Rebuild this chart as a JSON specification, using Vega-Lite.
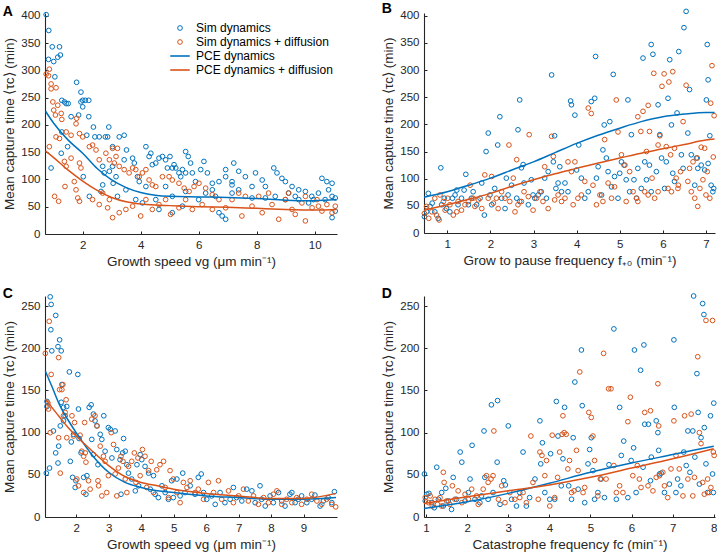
{
"$schema":"https://vega.github.io/schema/vega-lite/v6.json",
"background":"white",
"padding":{"left":2,"top":2,"right":2,"bottom":2},
"config":{
 "view":{"stroke":null},
 "font":"Liberation Sans",
 "axis":{"grid":false,"domainColor":"#262626","domainWidth":1.1,"tickColor":"#262626","tickSize":-3,"tickWidth":1,"labelColor":"#262626","titleColor":"#262626","labelFont":"Liberation Sans","titleFont":"Liberation Sans","labelFontSize":11.5,"titleFontSize":13.5,"titleFontWeight":"normal","labelPadding":8,"titlePadding":4},
 "title":{"font":"Liberation Sans","fontSize":14,"fontWeight":"bold","anchor":"start","frame":"bounds","offset":-9,"color":"#000"}
},
"datasets":{
"A":[
{"s":"S","x":0.74,"y":402},{"s":"S","x":0.83,"y":373},{"s":"S","x":0.82,"y":320},{"s":"S","x":0.95,"y":343},{"s":"S","x":1.0,"y":316},{"s":"S","x":1.14,"y":324},{"s":"S","x":1.2,"y":343},{"s":"S","x":1.23,"y":328},{"s":"S","x":0.91,"y":121},{"s":"S","x":1.04,"y":288},{"s":"S","x":1.28,"y":245},{"s":"S","x":1.37,"y":242},{"s":"S","x":1.43,"y":239},{"s":"S","x":1.5,"y":239},{"s":"S","x":1.6,"y":215},{"s":"S","x":1.79,"y":278},{"s":"S","x":1.86,"y":218},{"s":"S","x":1.94,"y":260},{"s":"S","x":1.94,"y":242},{"s":"S","x":2.0,"y":245},{"s":"S","x":2.0,"y":233},{"s":"S","x":2.09,"y":245},{"s":"S","x":2.21,"y":245},{"s":"S","x":2.21,"y":215},{"s":"S","x":1.28,"y":187},{"s":"S","x":1.26,"y":148},{"s":"S","x":1.48,"y":160},{"s":"S","x":2.14,"y":181},{"s":"S","x":2.02,"y":105},{"s":"S","x":2.37,"y":196},{"s":"S","x":2.42,"y":178},{"s":"S","x":2.57,"y":178},{"s":"S","x":2.78,"y":178},{"s":"S","x":2.86,"y":178},{"s":"S","x":2.9,"y":196},{"s":"S","x":3.26,"y":178},{"s":"S","x":3.43,"y":181},{"s":"S","x":3.03,"y":160},{"s":"S","x":3.03,"y":124},{"s":"S","x":2.69,"y":124},{"s":"S","x":2.74,"y":112},{"s":"S","x":2.92,"y":115},{"s":"S","x":2.69,"y":90},{"s":"S","x":2.63,"y":78},{"s":"S","x":2.23,"y":69},{"s":"S","x":3.05,"y":93},{"s":"S","x":3.15,"y":105},{"s":"S","x":3.2,"y":69},{"s":"S","x":3.51,"y":154},{"s":"S","x":3.43,"y":136},{"s":"S","x":3.72,"y":139},{"s":"S","x":3.78,"y":130},{"s":"S","x":3.89,"y":105},{"s":"S","x":3.95,"y":96},{"s":"S","x":4.18,"y":160},{"s":"S","x":4.29,"y":142},{"s":"S","x":4.35,"y":148},{"s":"S","x":4.4,"y":127},{"s":"S","x":4.52,"y":130},{"s":"S","x":4.63,"y":139},{"s":"S","x":4.75,"y":142},{"s":"S","x":4.86,"y":136},{"s":"S","x":4.92,"y":121},{"s":"S","x":5.01,"y":142},{"s":"S","x":5.09,"y":121},{"s":"S","x":5.15,"y":127},{"s":"S","x":5.21,"y":121},{"s":"S","x":5.32,"y":112},{"s":"S","x":5.38,"y":105},{"s":"S","x":5.44,"y":118},{"s":"S","x":5.55,"y":151},{"s":"S","x":5.64,"y":142},{"s":"S","x":5.72,"y":130},{"s":"S","x":5.55,"y":112},{"s":"S","x":5.78,"y":112},{"s":"S","x":5.89,"y":96},{"s":"S","x":6.07,"y":118},{"s":"S","x":6.18,"y":133},{"s":"S","x":6.3,"y":112},{"s":"S","x":6.47,"y":93},{"s":"S","x":6.7,"y":96},{"s":"S","x":6.93,"y":118},{"s":"S","x":6.93,"y":105},{"s":"S","x":7.15,"y":96},{"s":"S","x":7.21,"y":130},{"s":"S","x":7.38,"y":115},{"s":"S","x":7.61,"y":105},{"s":"S","x":7.96,"y":112},{"s":"S","x":8.19,"y":99},{"s":"S","x":8.3,"y":87},{"s":"S","x":8.59,"y":121},{"s":"S","x":8.7,"y":112},{"s":"S","x":8.87,"y":102},{"s":"S","x":8.99,"y":96},{"s":"S","x":9.22,"y":87},{"s":"S","x":9.45,"y":81},{"s":"S","x":9.68,"y":78},{"s":"S","x":9.96,"y":63},{"s":"S","x":10.25,"y":102},{"s":"S","x":10.42,"y":96},{"s":"S","x":10.6,"y":93},{"s":"S","x":10.71,"y":66},{"s":"S","x":10.6,"y":30},{"s":"S","x":10.71,"y":42},{"s":"S","x":6.93,"y":27},{"s":"S","x":6.81,"y":33},{"s":"S","x":6.7,"y":39},{"s":"S","x":4.63,"y":45},{"s":"S","x":5.09,"y":39},{"s":"S","x":5.44,"y":51},{"s":"S","x":3.83,"y":63},{"s":"S","x":4.06,"y":57},{"s":"S","x":4.52,"y":63},{"s":"S","x":5.09,"y":69},{"s":"S","x":6.0,"y":63},{"s":"S","x":6.24,"y":75},{"s":"S","x":6.58,"y":69},{"s":"S","x":7.15,"y":75},{"s":"S","x":7.84,"y":66},{"s":"S","x":8.3,"y":66},{"s":"S","x":8.64,"y":69},{"s":"S","x":8.99,"y":63},{"s":"S","x":9.45,"y":63},{"s":"S","x":9.79,"y":57},{"s":"S","x":10.13,"y":75},{"s":"S","x":10.36,"y":63},{"s":"S","x":10.6,"y":69},{"s":"S","x":7.38,"y":81},{"s":"S","x":9.1,"y":75},{"s":"S","x":9.33,"y":69},{"s":"S","x":9.9,"y":69},{"s":"S","x":10.48,"y":81},{"s":"S","x":7.84,"y":87},{"s":"S","x":7.15,"y":90},{"s":"S","x":6.47,"y":81},{"s":"S","x":5.55,"y":78},{"s":"S","x":4.86,"y":87},{"s":"S","x":4.18,"y":87},{"s":"S","x":3.49,"y":81},
{"s":"SD","x":0.74,"y":293},{"s":"SD","x":0.82,"y":290},{"s":"SD","x":0.85,"y":302},{"s":"SD","x":0.91,"y":275},{"s":"SD","x":0.91,"y":266},{"s":"SD","x":1.08,"y":268},{"s":"SD","x":0.97,"y":242},{"s":"SD","x":1.0,"y":227},{"s":"SD","x":1.06,"y":218},{"s":"SD","x":1.14,"y":236},{"s":"SD","x":1.26,"y":221},{"s":"SD","x":1.28,"y":210},{"s":"SD","x":0.85,"y":160},{"s":"SD","x":1.08,"y":178},{"s":"SD","x":1.2,"y":175},{"s":"SD","x":1.43,"y":187},{"s":"SD","x":1.6,"y":181},{"s":"SD","x":1.79,"y":212},{"s":"SD","x":1.77,"y":202},{"s":"SD","x":1.89,"y":184},{"s":"SD","x":2.0,"y":178},{"s":"SD","x":1.37,"y":133},{"s":"SD","x":1.43,"y":124},{"s":"SD","x":1.6,"y":139},{"s":"SD","x":1.89,"y":130},{"s":"SD","x":1.94,"y":121},{"s":"SD","x":1.39,"y":87},{"s":"SD","x":1.71,"y":96},{"s":"SD","x":1.77,"y":81},{"s":"SD","x":1.83,"y":66},{"s":"SD","x":1.89,"y":60},{"s":"SD","x":1.03,"y":69},{"s":"SD","x":1.17,"y":60},{"s":"SD","x":2.23,"y":160},{"s":"SD","x":2.34,"y":163},{"s":"SD","x":2.46,"y":154},{"s":"SD","x":2.57,"y":136},{"s":"SD","x":2.8,"y":148},{"s":"SD","x":3.03,"y":157},{"s":"SD","x":3.2,"y":157},{"s":"SD","x":3.15,"y":142},{"s":"SD","x":2.92,"y":136},{"s":"SD","x":3.09,"y":130},{"s":"SD","x":3.26,"y":124},{"s":"SD","x":3.43,"y":118},{"s":"SD","x":3.6,"y":112},{"s":"SD","x":3.72,"y":121},{"s":"SD","x":3.83,"y":118},{"s":"SD","x":3.95,"y":105},{"s":"SD","x":4.06,"y":112},{"s":"SD","x":4.18,"y":118},{"s":"SD","x":4.29,"y":99},{"s":"SD","x":4.4,"y":90},{"s":"SD","x":4.52,"y":87},{"s":"SD","x":4.75,"y":105},{"s":"SD","x":4.98,"y":105},{"s":"SD","x":5.09,"y":99},{"s":"SD","x":5.32,"y":93},{"s":"SD","x":5.5,"y":84},{"s":"SD","x":5.67,"y":78},{"s":"SD","x":5.84,"y":87},{"s":"SD","x":6.01,"y":93},{"s":"SD","x":6.24,"y":84},{"s":"SD","x":6.47,"y":72},{"s":"SD","x":2.34,"y":63},{"s":"SD","x":2.57,"y":54},{"s":"SD","x":2.86,"y":48},{"s":"SD","x":3.03,"y":30},{"s":"SD","x":3.26,"y":39},{"s":"SD","x":3.49,"y":45},{"s":"SD","x":2.92,"y":63},{"s":"SD","x":2.69,"y":75},{"s":"SD","x":3.72,"y":51},{"s":"SD","x":4.0,"y":33},{"s":"SD","x":4.18,"y":63},{"s":"SD","x":4.4,"y":45},{"s":"SD","x":4.63,"y":54},{"s":"SD","x":4.86,"y":63},{"s":"SD","x":5.03,"y":36},{"s":"SD","x":5.32,"y":48},{"s":"SD","x":5.55,"y":63},{"s":"SD","x":5.78,"y":45},{"s":"SD","x":6.12,"y":54},{"s":"SD","x":6.47,"y":45},{"s":"SD","x":6.7,"y":63},{"s":"SD","x":6.93,"y":48},{"s":"SD","x":7.15,"y":63},{"s":"SD","x":7.38,"y":75},{"s":"SD","x":7.49,"y":33},{"s":"SD","x":7.84,"y":51},{"s":"SD","x":8.19,"y":39},{"s":"SD","x":8.41,"y":75},{"s":"SD","x":8.53,"y":54},{"s":"SD","x":8.76,"y":27},{"s":"SD","x":8.99,"y":63},{"s":"SD","x":9.22,"y":45},{"s":"SD","x":9.33,"y":36},{"s":"SD","x":9.56,"y":57},{"s":"SD","x":9.68,"y":24},{"s":"SD","x":9.91,"y":48},{"s":"SD","x":10.08,"y":63},{"s":"SD","x":10.25,"y":42},{"s":"SD","x":10.42,"y":54},{"s":"SD","x":10.6,"y":39},{"s":"SD","x":10.71,"y":51},{"s":"SD","x":9.1,"y":75},{"s":"SD","x":8.07,"y":69},{"s":"SD","x":7.61,"y":69},{"s":"SD","x":9.68,"y":69},{"s":"SD","x":10.13,"y":51},
{"s":"P","x":0.72,"y":225},{"s":"P","x":1.0,"y":203},{"s":"P","x":1.5,"y":172},{"s":"P","x":2,"y":148},{"s":"P","x":2.5,"y":120},{"s":"P","x":3,"y":99},{"s":"P","x":3.5,"y":85},{"s":"P","x":4,"y":76},{"s":"P","x":4.5,"y":71},{"s":"P","x":5,"y":69},{"s":"P","x":6,"y":68},{"s":"P","x":7,"y":67},{"s":"P","x":8,"y":65},{"s":"P","x":9,"y":62},{"s":"P","x":10,"y":61},{"s":"P","x":10.75,"y":63},
{"s":"PD","x":0.72,"y":152},{"s":"PD","x":1.0,"y":140},{"s":"PD","x":1.5,"y":117},{"s":"PD","x":2,"y":97},{"s":"PD","x":2.5,"y":80},{"s":"PD","x":3,"y":67},{"s":"PD","x":3.5,"y":59},{"s":"PD","x":4,"y":55},{"s":"PD","x":4.5,"y":53},{"s":"PD","x":5,"y":52},{"s":"PD","x":6,"y":50},{"s":"PD","x":7,"y":49},{"s":"PD","x":8,"y":47},{"s":"PD","x":9,"y":45},{"s":"PD","x":10,"y":44},{"s":"PD","x":10.75,"y":45}
],
"B":[
{"s":"S","x":0.47,"y":30},{"s":"S","x":0.52,"y":39},{"s":"S","x":0.56,"y":73},{"s":"S","x":0.6,"y":49},{"s":"S","x":0.65,"y":55},{"s":"S","x":0.71,"y":39},{"s":"S","x":0.79,"y":27},{"s":"S","x":0.85,"y":120},{"s":"S","x":0.87,"y":52},{"s":"S","x":0.93,"y":64},{"s":"S","x":0.98,"y":45},{"s":"S","x":1.06,"y":39},{"s":"S","x":1.12,"y":64},{"s":"S","x":1.18,"y":70},{"s":"S","x":1.22,"y":79},{"s":"S","x":1.25,"y":52},{"s":"S","x":1.33,"y":64},{"s":"S","x":1.39,"y":79},{"s":"S","x":1.43,"y":108},{"s":"S","x":1.49,"y":52},{"s":"S","x":1.56,"y":64},{"s":"S","x":1.6,"y":76},{"s":"S","x":1.68,"y":52},{"s":"S","x":1.76,"y":64},{"s":"S","x":1.8,"y":92},{"s":"S","x":1.86,"y":33},{"s":"S","x":1.9,"y":150},{"s":"S","x":1.95,"y":184},{"s":"S","x":1.99,"y":70},{"s":"S","x":2.03,"y":52},{"s":"S","x":2.1,"y":82},{"s":"S","x":2.17,"y":162},{"s":"S","x":2.22,"y":214},{"s":"S","x":2.26,"y":64},{"s":"S","x":2.34,"y":45},{"s":"S","x":2.37,"y":101},{"s":"S","x":2.41,"y":70},{"s":"S","x":2.49,"y":88},{"s":"S","x":2.61,"y":64},{"s":"S","x":2.64,"y":190},{"s":"S","x":2.68,"y":245},{"s":"S","x":2.72,"y":120},{"s":"S","x":2.76,"y":126},{"s":"S","x":2.78,"y":92},{"s":"S","x":2.68,"y":58},{"s":"S","x":2.88,"y":52},{"s":"S","x":2.95,"y":98},{"s":"S","x":2.99,"y":70},{"s":"S","x":3.03,"y":64},{"s":"S","x":3.11,"y":70},{"s":"S","x":3.18,"y":76},{"s":"S","x":3.26,"y":101},{"s":"S","x":3.3,"y":64},{"s":"S","x":3.34,"y":113},{"s":"S","x":3.42,"y":291},{"s":"S","x":3.46,"y":131},{"s":"S","x":3.49,"y":179},{"s":"S","x":3.52,"y":82},{"s":"S","x":3.57,"y":92},{"s":"S","x":3.61,"y":122},{"s":"S","x":3.65,"y":76},{"s":"S","x":3.73,"y":92},{"s":"S","x":3.8,"y":76},{"s":"S","x":3.86,"y":243},{"s":"S","x":3.88,"y":236},{"s":"S","x":3.96,"y":217},{"s":"S","x":4.0,"y":116},{"s":"S","x":4.05,"y":162},{"s":"S","x":4.11,"y":101},{"s":"S","x":4.19,"y":64},{"s":"S","x":4.27,"y":76},{"s":"S","x":4.34,"y":242},{"s":"S","x":4.42,"y":248},{"s":"S","x":4.44,"y":325},{"s":"S","x":4.46,"y":101},{"s":"S","x":4.5,"y":122},{"s":"S","x":4.58,"y":70},{"s":"S","x":4.61,"y":153},{"s":"S","x":4.64,"y":199},{"s":"S","x":4.69,"y":138},{"s":"S","x":4.73,"y":113},{"s":"S","x":4.81,"y":85},{"s":"S","x":4.85,"y":292},{"s":"S","x":4.88,"y":104},{"s":"S","x":4.77,"y":205},{"s":"S","x":4.96,"y":64},{"s":"S","x":5.0,"y":110},{"s":"S","x":5.04,"y":131},{"s":"S","x":5.1,"y":125},{"s":"S","x":5.15,"y":98},{"s":"S","x":5.19,"y":245},{"s":"S","x":5.23,"y":76},{"s":"S","x":5.27,"y":181},{"s":"S","x":5.33,"y":98},{"s":"S","x":5.39,"y":64},{"s":"S","x":5.42,"y":119},{"s":"S","x":5.5,"y":82},{"s":"S","x":5.54,"y":322},{"s":"S","x":5.58,"y":131},{"s":"S","x":5.62,"y":98},{"s":"S","x":5.69,"y":125},{"s":"S","x":5.73,"y":347},{"s":"S","x":5.77,"y":329},{"s":"S","x":5.73,"y":76},{"s":"S","x":5.85,"y":113},{"s":"S","x":5.89,"y":236},{"s":"S","x":5.93,"y":181},{"s":"S","x":5.97,"y":138},{"s":"S","x":6.04,"y":82},{"s":"S","x":6.08,"y":131},{"s":"S","x":6.12,"y":248},{"s":"S","x":6.16,"y":319},{"s":"S","x":6.2,"y":199},{"s":"S","x":6.23,"y":110},{"s":"S","x":6.27,"y":95},{"s":"S","x":6.33,"y":221},{"s":"S","x":6.37,"y":334},{"s":"S","x":6.43,"y":144},{"s":"S","x":6.47,"y":119},{"s":"S","x":6.49,"y":378},{"s":"S","x":6.54,"y":408},{"s":"S","x":6.58,"y":184},{"s":"S","x":6.62,"y":264},{"s":"S","x":6.66,"y":144},{"s":"S","x":6.74,"y":88},{"s":"S","x":6.78,"y":138},{"s":"S","x":6.81,"y":119},{"s":"S","x":6.89,"y":125},{"s":"S","x":6.97,"y":116},{"s":"S","x":7.01,"y":245},{"s":"S","x":7.03,"y":347},{"s":"S","x":7.05,"y":282},{"s":"S","x":7.05,"y":128},{"s":"S","x":7.09,"y":179},{"s":"S","x":7.12,"y":88},{"s":"S","x":7.16,"y":76},{"s":"S","x":7.18,"y":82},
{"s":"SD","x":0.47,"y":36},{"s":"SD","x":0.52,"y":49},{"s":"SD","x":0.57,"y":27},{"s":"SD","x":0.64,"y":39},{"s":"SD","x":0.71,"y":64},{"s":"SD","x":0.75,"y":33},{"s":"SD","x":0.81,"y":24},{"s":"SD","x":0.83,"y":70},{"s":"SD","x":0.91,"y":58},{"s":"SD","x":0.95,"y":42},{"s":"SD","x":1.01,"y":64},{"s":"SD","x":1.06,"y":52},{"s":"SD","x":1.14,"y":33},{"s":"SD","x":1.22,"y":39},{"s":"SD","x":1.25,"y":58},{"s":"SD","x":1.33,"y":42},{"s":"SD","x":1.41,"y":52},{"s":"SD","x":1.49,"y":58},{"s":"SD","x":1.53,"y":88},{"s":"SD","x":1.6,"y":64},{"s":"SD","x":1.64,"y":49},{"s":"SD","x":1.72,"y":61},{"s":"SD","x":1.8,"y":45},{"s":"SD","x":1.87,"y":107},{"s":"SD","x":1.95,"y":64},{"s":"SD","x":2.03,"y":104},{"s":"SD","x":2.07,"y":55},{"s":"SD","x":2.14,"y":64},{"s":"SD","x":2.18,"y":45},{"s":"SD","x":2.26,"y":76},{"s":"SD","x":2.34,"y":64},{"s":"SD","x":2.43,"y":162},{"s":"SD","x":2.45,"y":58},{"s":"SD","x":2.53,"y":101},{"s":"SD","x":2.57,"y":39},{"s":"SD","x":2.61,"y":135},{"s":"SD","x":2.64,"y":52},{"s":"SD","x":2.72,"y":58},{"s":"SD","x":2.78,"y":76},{"s":"SD","x":2.88,"y":67},{"s":"SD","x":2.9,"y":181},{"s":"SD","x":2.99,"y":42},{"s":"SD","x":3.07,"y":64},{"s":"SD","x":3.15,"y":76},{"s":"SD","x":3.22,"y":58},{"s":"SD","x":3.26,"y":122},{"s":"SD","x":3.34,"y":45},{"s":"SD","x":3.42,"y":178},{"s":"SD","x":3.46,"y":141},{"s":"SD","x":3.49,"y":61},{"s":"SD","x":3.57,"y":70},{"s":"SD","x":3.65,"y":58},{"s":"SD","x":3.73,"y":64},{"s":"SD","x":3.8,"y":131},{"s":"SD","x":3.88,"y":113},{"s":"SD","x":3.92,"y":52},{"s":"SD","x":3.96,"y":131},{"s":"SD","x":4.03,"y":64},{"s":"SD","x":4.11,"y":70},{"s":"SD","x":4.19,"y":95},{"s":"SD","x":4.27,"y":230},{"s":"SD","x":4.34,"y":220},{"s":"SD","x":4.38,"y":88},{"s":"SD","x":4.46,"y":52},{"s":"SD","x":4.54,"y":70},{"s":"SD","x":4.61,"y":58},{"s":"SD","x":4.65,"y":172},{"s":"SD","x":4.73,"y":92},{"s":"SD","x":4.81,"y":64},{"s":"SD","x":4.88,"y":85},{"s":"SD","x":4.92,"y":245},{"s":"SD","x":4.96,"y":186},{"s":"SD","x":5.04,"y":144},{"s":"SD","x":5.12,"y":125},{"s":"SD","x":5.15,"y":58},{"s":"SD","x":5.23,"y":113},{"s":"SD","x":5.31,"y":76},{"s":"SD","x":5.39,"y":64},{"s":"SD","x":5.42,"y":214},{"s":"SD","x":5.49,"y":187},{"s":"SD","x":5.54,"y":224},{"s":"SD","x":5.58,"y":76},{"s":"SD","x":5.62,"y":150},{"s":"SD","x":5.66,"y":235},{"s":"SD","x":5.69,"y":187},{"s":"SD","x":5.75,"y":101},{"s":"SD","x":5.79,"y":294},{"s":"SD","x":5.81,"y":64},{"s":"SD","x":5.89,"y":162},{"s":"SD","x":5.93,"y":179},{"s":"SD","x":5.98,"y":270},{"s":"SD","x":6.03,"y":293},{"s":"SD","x":6.08,"y":159},{"s":"SD","x":6.12,"y":82},{"s":"SD","x":6.14,"y":278},{"s":"SD","x":6.18,"y":144},{"s":"SD","x":6.23,"y":297},{"s":"SD","x":6.27,"y":156},{"s":"SD","x":6.31,"y":101},{"s":"SD","x":6.36,"y":88},{"s":"SD","x":6.41,"y":113},{"s":"SD","x":6.47,"y":205},{"s":"SD","x":6.54,"y":272},{"s":"SD","x":6.58,"y":95},{"s":"SD","x":6.62,"y":119},{"s":"SD","x":6.7,"y":131},{"s":"SD","x":6.74,"y":64},{"s":"SD","x":6.8,"y":138},{"s":"SD","x":6.86,"y":82},{"s":"SD","x":6.89,"y":158},{"s":"SD","x":6.93,"y":98},{"s":"SD","x":6.97,"y":156},{"s":"SD","x":7.03,"y":113},{"s":"SD","x":7.09,"y":64},{"s":"SD","x":7.11,"y":239},{"s":"SD","x":7.14,"y":308},{"s":"SD","x":7.17,"y":140},{"s":"SD","x":7.19,"y":216},{"s":"SD","x":5.42,"y":58},{"s":"SD","x":5.66,"y":70},{"s":"SD","x":5.89,"y":76},{"s":"SD","x":6.2,"y":76},{"s":"SD","x":6.35,"y":82},{"s":"SD","x":6.66,"y":76},{"s":"SD","x":6.81,"y":49},{"s":"SD","x":7.0,"y":70},
{"s":"P","x":0.46,"y":66},{"s":"P","x":1,"y":76},{"s":"P","x":1.5,"y":88},{"s":"P","x":2,"y":101},{"s":"P","x":2.5,"y":116},{"s":"P","x":3,"y":131},{"s":"P","x":3.5,"y":148},{"s":"P","x":4,"y":165},{"s":"P","x":4.5,"y":180},{"s":"P","x":5,"y":193},{"s":"P","x":5.5,"y":205},{"s":"P","x":6,"y":214},{"s":"P","x":6.5,"y":219},{"s":"P","x":7,"y":222},{"s":"P","x":7.2,"y":222},
{"s":"PD","x":0.46,"y":42},{"s":"PD","x":1,"y":52},{"s":"PD","x":1.5,"y":62},{"s":"PD","x":2,"y":73},{"s":"PD","x":2.5,"y":86},{"s":"PD","x":3,"y":98},{"s":"PD","x":3.5,"y":109},{"s":"PD","x":4,"y":119},{"s":"PD","x":4.5,"y":129},{"s":"PD","x":5,"y":138},{"s":"PD","x":5.5,"y":147},{"s":"PD","x":6,"y":155},{"s":"PD","x":6.5,"y":163},{"s":"PD","x":7,"y":171},{"s":"PD","x":7.2,"y":173}
],
"C":[
{"s":"S","x":1.08,"y":52},{"s":"S","x":1.18,"y":58},{"s":"S","x":1.1,"y":137},{"s":"S","x":1.1,"y":131},{"s":"S","x":1.2,"y":261},{"s":"S","x":1.23,"y":252},{"s":"S","x":1.22,"y":222},{"s":"S","x":1.25,"y":197},{"s":"S","x":1.37,"y":239},{"s":"S","x":1.44,"y":202},{"s":"S","x":1.49,"y":210},{"s":"S","x":1.54,"y":197},{"s":"S","x":1.3,"y":102},{"s":"S","x":1.37,"y":76},{"s":"S","x":1.44,"y":64},{"s":"S","x":1.46,"y":84},{"s":"S","x":1.51,"y":108},{"s":"S","x":1.54,"y":136},{"s":"S","x":1.56,"y":157},{"s":"S","x":1.61,"y":130},{"s":"S","x":1.61,"y":114},{"s":"S","x":1.66,"y":120},{"s":"S","x":1.71,"y":131},{"s":"S","x":1.79,"y":172},{"s":"S","x":1.82,"y":66},{"s":"S","x":1.85,"y":89},{"s":"S","x":1.89,"y":47},{"s":"S","x":1.92,"y":98},{"s":"S","x":1.97,"y":35},{"s":"S","x":1.99,"y":43},{"s":"S","x":2.05,"y":169},{"s":"S","x":2.07,"y":128},{"s":"S","x":2.09,"y":93},{"s":"S","x":2.15,"y":76},{"s":"S","x":2.23,"y":47},{"s":"S","x":2.3,"y":27},{"s":"S","x":2.33,"y":49},{"s":"S","x":2.4,"y":130},{"s":"S","x":2.46,"y":133},{"s":"S","x":2.48,"y":92},{"s":"S","x":2.53,"y":122},{"s":"S","x":2.58,"y":114},{"s":"S","x":2.64,"y":108},{"s":"S","x":2.53,"y":74},{"s":"S","x":2.67,"y":62},{"s":"S","x":2.74,"y":98},{"s":"S","x":2.79,"y":92},{"s":"S","x":2.85,"y":120},{"s":"S","x":2.89,"y":78},{"s":"S","x":2.99,"y":106},{"s":"S","x":3.05,"y":104},{"s":"S","x":3.1,"y":70},{"s":"S","x":3.2,"y":102},{"s":"S","x":3.25,"y":80},{"s":"S","x":3.35,"y":68},{"s":"S","x":3.38,"y":27},{"s":"S","x":3.43,"y":76},{"s":"S","x":3.46,"y":93},{"s":"S","x":3.51,"y":78},{"s":"S","x":3.56,"y":62},{"s":"S","x":3.61,"y":52},{"s":"S","x":3.71,"y":45},{"s":"S","x":3.82,"y":31},{"s":"S","x":3.87,"y":62},{"s":"S","x":3.92,"y":37},{"s":"S","x":3.97,"y":74},{"s":"S","x":4.02,"y":68},{"s":"S","x":4.12,"y":60},{"s":"S","x":4.23,"y":52},{"s":"S","x":4.28,"y":33},{"s":"S","x":4.38,"y":49},{"s":"S","x":4.43,"y":27},{"s":"S","x":4.53,"y":23},{"s":"S","x":4.64,"y":37},{"s":"S","x":4.74,"y":29},{"s":"S","x":4.84,"y":21},{"s":"S","x":4.94,"y":43},{"s":"S","x":4.99,"y":23},{"s":"S","x":5.1,"y":45},{"s":"S","x":5.2,"y":25},{"s":"S","x":5.28,"y":52},{"s":"S","x":5.35,"y":29},{"s":"S","x":5.51,"y":37},{"s":"S","x":5.66,"y":27},{"s":"S","x":5.76,"y":47},{"s":"S","x":5.85,"y":51},{"s":"S","x":5.92,"y":29},{"s":"S","x":6.02,"y":21},{"s":"S","x":6.17,"y":25},{"s":"S","x":6.28,"y":15},{"s":"S","x":6.43,"y":29},{"s":"S","x":6.58,"y":17},{"s":"S","x":6.74,"y":21},{"s":"S","x":6.84,"y":35},{"s":"S","x":6.94,"y":23},{"s":"S","x":7.1,"y":19},{"s":"S","x":7.25,"y":33},{"s":"S","x":7.41,"y":31},{"s":"S","x":7.51,"y":17},{"s":"S","x":7.66,"y":37},{"s":"S","x":7.71,"y":21},{"s":"S","x":7.82,"y":13},{"s":"S","x":7.97,"y":25},{"s":"S","x":8.07,"y":17},{"s":"S","x":8.23,"y":29},{"s":"S","x":8.33,"y":19},{"s":"S","x":8.43,"y":13},{"s":"S","x":8.58,"y":27},{"s":"S","x":8.64,"y":29},{"s":"S","x":8.74,"y":17},{"s":"S","x":8.84,"y":21},{"s":"S","x":8.94,"y":25},{"s":"S","x":9.1,"y":17},{"s":"S","x":9.25,"y":21},{"s":"S","x":9.35,"y":26},{"s":"S","x":9.51,"y":13},{"s":"S","x":9.61,"y":19},{"s":"S","x":9.76,"y":23},{"s":"S","x":9.87,"y":17},{"s":"S","x":9.95,"y":30},
{"s":"SD","x":1.05,"y":194},{"s":"SD","x":1.13,"y":135},{"s":"SD","x":1.15,"y":128},{"s":"SD","x":1.2,"y":100},{"s":"SD","x":1.17,"y":232},{"s":"SD","x":1.23,"y":169},{"s":"SD","x":1.46,"y":189},{"s":"SD","x":1.49,"y":151},{"s":"SD","x":1.56,"y":151},{"s":"SD","x":1.59,"y":157},{"s":"SD","x":1.46,"y":94},{"s":"SD","x":1.51,"y":52},{"s":"SD","x":1.61,"y":120},{"s":"SD","x":1.66,"y":124},{"s":"SD","x":1.69,"y":139},{"s":"SD","x":1.71,"y":94},{"s":"SD","x":1.87,"y":120},{"s":"SD","x":1.92,"y":96},{"s":"SD","x":1.95,"y":112},{"s":"SD","x":2.02,"y":45},{"s":"SD","x":2.07,"y":37},{"s":"SD","x":2.12,"y":97},{"s":"SD","x":2.17,"y":78},{"s":"SD","x":2.23,"y":72},{"s":"SD","x":2.26,"y":112},{"s":"SD","x":2.28,"y":76},{"s":"SD","x":2.3,"y":65},{"s":"SD","x":2.23,"y":29},{"s":"SD","x":2.38,"y":43},{"s":"SD","x":2.43,"y":33},{"s":"SD","x":2.48,"y":116},{"s":"SD","x":2.58,"y":120},{"s":"SD","x":2.64,"y":108},{"s":"SD","x":2.67,"y":43},{"s":"SD","x":2.69,"y":37},{"s":"SD","x":2.74,"y":84},{"s":"SD","x":2.79,"y":25},{"s":"SD","x":2.84,"y":72},{"s":"SD","x":2.89,"y":66},{"s":"SD","x":2.94,"y":29},{"s":"SD","x":2.99,"y":49},{"s":"SD","x":3.08,"y":100},{"s":"SD","x":3.15,"y":86},{"s":"SD","x":3.2,"y":51},{"s":"SD","x":3.25,"y":25},{"s":"SD","x":3.3,"y":58},{"s":"SD","x":3.38,"y":72},{"s":"SD","x":3.44,"y":66},{"s":"SD","x":3.51,"y":45},{"s":"SD","x":3.56,"y":29},{"s":"SD","x":3.61,"y":60},{"s":"SD","x":3.71,"y":66},{"s":"SD","x":3.79,"y":76},{"s":"SD","x":3.84,"y":41},{"s":"SD","x":3.9,"y":70},{"s":"SD","x":3.97,"y":49},{"s":"SD","x":4.04,"y":80},{"s":"SD","x":4.12,"y":72},{"s":"SD","x":4.17,"y":35},{"s":"SD","x":4.23,"y":55},{"s":"SD","x":4.31,"y":66},{"s":"SD","x":4.38,"y":29},{"s":"SD","x":4.48,"y":56},{"s":"SD","x":4.58,"y":62},{"s":"SD","x":4.69,"y":66},{"s":"SD","x":4.74,"y":35},{"s":"SD","x":4.84,"y":23},{"s":"SD","x":4.89,"y":55},{"s":"SD","x":4.99,"y":45},{"s":"SD","x":5.1,"y":29},{"s":"SD","x":5.2,"y":17},{"s":"SD","x":5.3,"y":41},{"s":"SD","x":5.41,"y":35},{"s":"SD","x":5.51,"y":43},{"s":"SD","x":5.66,"y":29},{"s":"SD","x":5.76,"y":33},{"s":"SD","x":5.92,"y":21},{"s":"SD","x":6.07,"y":41},{"s":"SD","x":6.23,"y":29},{"s":"SD","x":6.38,"y":43},{"s":"SD","x":6.48,"y":21},{"s":"SD","x":6.69,"y":31},{"s":"SD","x":6.84,"y":17},{"s":"SD","x":7.0,"y":25},{"s":"SD","x":7.15,"y":33},{"s":"SD","x":7.3,"y":19},{"s":"SD","x":7.46,"y":25},{"s":"SD","x":7.61,"y":15},{"s":"SD","x":7.77,"y":23},{"s":"SD","x":7.92,"y":17},{"s":"SD","x":8.07,"y":27},{"s":"SD","x":8.18,"y":31},{"s":"SD","x":8.33,"y":15},{"s":"SD","x":8.48,"y":21},{"s":"SD","x":8.64,"y":17},{"s":"SD","x":8.79,"y":23},{"s":"SD","x":8.94,"y":15},{"s":"SD","x":9.1,"y":21},{"s":"SD","x":9.25,"y":27},{"s":"SD","x":9.41,"y":19},{"s":"SD","x":9.56,"y":15},{"s":"SD","x":9.71,"y":21},{"s":"SD","x":9.87,"y":15},{"s":"SD","x":9.99,"y":12},
{"s":"P","x":1.05,"y":173},{"s":"P","x":1.25,"y":155},{"s":"P","x":1.5,"y":132},{"s":"P","x":1.75,"y":115},{"s":"P","x":2,"y":100},{"s":"P","x":2.5,"y":73},{"s":"P","x":3,"y":53},{"s":"P","x":3.5,"y":41},{"s":"P","x":4,"y":35},{"s":"P","x":4.5,"y":31},{"s":"P","x":5,"y":29},{"s":"P","x":6,"y":25},{"s":"P","x":7,"y":23},{"s":"P","x":8,"y":21},{"s":"P","x":9,"y":21},{"s":"P","x":10,"y":23},
{"s":"PD","x":1.05,"y":140},{"s":"PD","x":1.25,"y":130},{"s":"PD","x":1.5,"y":118},{"s":"PD","x":1.75,"y":106},{"s":"PD","x":2,"y":96},{"s":"PD","x":2.5,"y":78},{"s":"PD","x":3,"y":61},{"s":"PD","x":3.5,"y":48},{"s":"PD","x":4,"y":41},{"s":"PD","x":4.5,"y":37},{"s":"PD","x":5,"y":33},{"s":"PD","x":6,"y":28},{"s":"PD","x":7,"y":25},{"s":"PD","x":8,"y":22},{"s":"PD","x":9,"y":22},{"s":"PD","x":10,"y":28}
],
"D":[
{"s":"S","x":0.96,"y":51},{"s":"S","x":0.98,"y":19},{"s":"S","x":1.02,"y":27},{"s":"S","x":1.07,"y":28},{"s":"S","x":1.14,"y":17},{"s":"S","x":1.2,"y":11},{"s":"S","x":1.26,"y":59},{"s":"S","x":1.3,"y":21},{"s":"S","x":1.38,"y":29},{"s":"S","x":1.42,"y":13},{"s":"S","x":1.48,"y":34},{"s":"S","x":1.54,"y":19},{"s":"S","x":1.62,"y":9},{"s":"S","x":1.66,"y":47},{"s":"S","x":1.74,"y":21},{"s":"S","x":1.83,"y":77},{"s":"S","x":1.87,"y":65},{"s":"S","x":1.95,"y":19},{"s":"S","x":2.03,"y":29},{"s":"S","x":2.07,"y":45},{"s":"S","x":2.12,"y":85},{"s":"S","x":2.19,"y":21},{"s":"S","x":2.31,"y":17},{"s":"S","x":2.35,"y":25},{"s":"S","x":2.41,"y":102},{"s":"S","x":2.43,"y":47},{"s":"S","x":2.51,"y":21},{"s":"S","x":2.59,"y":133},{"s":"S","x":2.63,"y":29},{"s":"S","x":2.74,"y":138},{"s":"S","x":2.73,"y":65},{"s":"S","x":2.8,"y":15},{"s":"S","x":2.89,"y":43},{"s":"S","x":2.93,"y":38},{"s":"S","x":3.0,"y":108},{"s":"S","x":3.08,"y":21},{"s":"S","x":3.2,"y":13},{"s":"S","x":3.28,"y":29},{"s":"S","x":3.36,"y":77},{"s":"S","x":3.44,"y":13},{"s":"S","x":3.52,"y":23},{"s":"S","x":3.65,"y":45},{"s":"S","x":3.77,"y":114},{"s":"S","x":3.79,"y":63},{"s":"S","x":3.83,"y":88},{"s":"S","x":3.89,"y":29},{"s":"S","x":4.01,"y":21},{"s":"S","x":4.03,"y":75},{"s":"S","x":4.13,"y":21},{"s":"S","x":4.17,"y":137},{"s":"S","x":4.21,"y":96},{"s":"S","x":4.29,"y":37},{"s":"S","x":4.33,"y":69},{"s":"S","x":4.37,"y":130},{"s":"S","x":4.47,"y":37},{"s":"S","x":4.54,"y":21},{"s":"S","x":4.58,"y":94},{"s":"S","x":4.62,"y":160},{"s":"S","x":4.7,"y":33},{"s":"S","x":4.78,"y":198},{"s":"S","x":4.8,"y":132},{"s":"S","x":4.86,"y":17},{"s":"S","x":4.94,"y":63},{"s":"S","x":4.98,"y":80},{"s":"S","x":5.02,"y":94},{"s":"S","x":5.06,"y":55},{"s":"S","x":5.1,"y":21},{"s":"S","x":5.18,"y":29},{"s":"S","x":5.26,"y":45},{"s":"S","x":5.34,"y":23},{"s":"S","x":5.45,"y":62},{"s":"S","x":5.57,"y":223},{"s":"S","x":5.63,"y":21},{"s":"S","x":5.71,"y":130},{"s":"S","x":5.75,"y":73},{"s":"S","x":5.81,"y":90},{"s":"S","x":5.91,"y":23},{"s":"S","x":5.99,"y":67},{"s":"S","x":6.05,"y":82},{"s":"S","x":6.07,"y":198},{"s":"S","x":6.11,"y":29},{"s":"S","x":6.22,"y":174},{"s":"S","x":6.28,"y":59},{"s":"S","x":6.3,"y":204},{"s":"S","x":6.32,"y":110},{"s":"S","x":6.41,"y":110},{"s":"S","x":6.46,"y":43},{"s":"S","x":6.48,"y":71},{"s":"S","x":6.6,"y":114},{"s":"S","x":6.64,"y":100},{"s":"S","x":6.66,"y":79},{"s":"S","x":6.68,"y":51},{"s":"S","x":6.72,"y":52},{"s":"S","x":6.8,"y":29},{"s":"S","x":6.92,"y":39},{"s":"S","x":7.03,"y":210},{"s":"S","x":7.04,"y":130},{"s":"S","x":7.08,"y":29},{"s":"S","x":7.12,"y":45},{"s":"S","x":7.2,"y":37},{"s":"S","x":7.27,"y":77},{"s":"S","x":7.33,"y":61},{"s":"S","x":7.37,"y":102},{"s":"S","x":7.42,"y":53},{"s":"S","x":7.49,"y":102},{"s":"S","x":7.51,"y":262},{"s":"S","x":7.54,"y":71},{"s":"S","x":7.59,"y":170},{"s":"S","x":7.62,"y":124},{"s":"S","x":7.65,"y":39},{"s":"S","x":7.69,"y":94},{"s":"S","x":7.73,"y":253},{"s":"S","x":7.76,"y":240},{"s":"S","x":7.77,"y":106},{"s":"S","x":7.81,"y":63},{"s":"S","x":7.85,"y":29},{"s":"S","x":7.92,"y":120},{"s":"S","x":7.97,"y":51},{"s":"S","x":8.0,"y":135},{"s":"S","x":7.99,"y":29},
{"s":"SD","x":0.98,"y":23},{"s":"SD","x":1.06,"y":17},{"s":"SD","x":1.1,"y":25},{"s":"SD","x":1.15,"y":13},{"s":"SD","x":1.22,"y":21},{"s":"SD","x":1.28,"y":15},{"s":"SD","x":1.34,"y":23},{"s":"SD","x":1.38,"y":13},{"s":"SD","x":1.42,"y":53},{"s":"SD","x":1.44,"y":41},{"s":"SD","x":1.5,"y":19},{"s":"SD","x":1.58,"y":15},{"s":"SD","x":1.64,"y":37},{"s":"SD","x":1.7,"y":21},{"s":"SD","x":1.78,"y":31},{"s":"SD","x":1.87,"y":17},{"s":"SD","x":1.95,"y":27},{"s":"SD","x":2.03,"y":21},{"s":"SD","x":2.11,"y":33},{"s":"SD","x":2.23,"y":25},{"s":"SD","x":2.27,"y":15},{"s":"SD","x":2.39,"y":33},{"s":"SD","x":2.47,"y":49},{"s":"SD","x":2.51,"y":41},{"s":"SD","x":2.58,"y":45},{"s":"SD","x":2.63,"y":49},{"s":"SD","x":2.65,"y":102},{"s":"SD","x":2.76,"y":21},{"s":"SD","x":2.84,"y":37},{"s":"SD","x":2.92,"y":17},{"s":"SD","x":3.04,"y":29},{"s":"SD","x":3.16,"y":21},{"s":"SD","x":3.28,"y":23},{"s":"SD","x":3.36,"y":29},{"s":"SD","x":3.44,"y":17},{"s":"SD","x":3.55,"y":96},{"s":"SD","x":3.6,"y":41},{"s":"SD","x":3.73,"y":21},{"s":"SD","x":3.77,"y":77},{"s":"SD","x":3.82,"y":73},{"s":"SD","x":3.89,"y":49},{"s":"SD","x":3.93,"y":67},{"s":"SD","x":4.01,"y":13},{"s":"SD","x":4.07,"y":97},{"s":"SD","x":4.13,"y":23},{"s":"SD","x":4.2,"y":47},{"s":"SD","x":4.25,"y":77},{"s":"SD","x":4.31,"y":98},{"s":"SD","x":4.33,"y":120},{"s":"SD","x":4.36,"y":100},{"s":"SD","x":4.41,"y":98},{"s":"SD","x":4.45,"y":57},{"s":"SD","x":4.49,"y":67},{"s":"SD","x":4.54,"y":29},{"s":"SD","x":4.6,"y":31},{"s":"SD","x":4.66,"y":79},{"s":"SD","x":4.7,"y":55},{"s":"SD","x":4.74,"y":172},{"s":"SD","x":4.82,"y":29},{"s":"SD","x":4.86,"y":35},{"s":"SD","x":4.96,"y":124},{"s":"SD","x":5.02,"y":118},{"s":"SD","x":5.06,"y":96},{"s":"SD","x":5.1,"y":67},{"s":"SD","x":5.18,"y":25},{"s":"SD","x":5.24,"y":45},{"s":"SD","x":5.32,"y":194},{"s":"SD","x":5.38,"y":45},{"s":"SD","x":5.44,"y":152},{"s":"SD","x":5.5,"y":152},{"s":"SD","x":5.57,"y":61},{"s":"SD","x":5.63,"y":29},{"s":"SD","x":5.71,"y":37},{"s":"SD","x":5.79,"y":29},{"s":"SD","x":5.91,"y":113},{"s":"SD","x":5.97,"y":142},{"s":"SD","x":6.03,"y":49},{"s":"SD","x":6.14,"y":61},{"s":"SD","x":6.19,"y":45},{"s":"SD","x":6.23,"y":35},{"s":"SD","x":6.32,"y":124},{"s":"SD","x":6.4,"y":37},{"s":"SD","x":6.46,"y":126},{"s":"SD","x":6.52,"y":31},{"s":"SD","x":6.6,"y":47},{"s":"SD","x":6.64,"y":158},{"s":"SD","x":6.66,"y":108},{"s":"SD","x":6.68,"y":49},{"s":"SD","x":6.76,"y":53},{"s":"SD","x":6.8,"y":37},{"s":"SD","x":6.88,"y":23},{"s":"SD","x":6.96,"y":57},{"s":"SD","x":7.03,"y":114},{"s":"SD","x":7.08,"y":73},{"s":"SD","x":7.16,"y":57},{"s":"SD","x":7.25,"y":25},{"s":"SD","x":7.29,"y":120},{"s":"SD","x":7.37,"y":45},{"s":"SD","x":7.45,"y":122},{"s":"SD","x":7.49,"y":25},{"s":"SD","x":7.53,"y":47},{"s":"SD","x":7.61,"y":190},{"s":"SD","x":7.65,"y":100},{"s":"SD","x":7.69,"y":87},{"s":"SD","x":7.73,"y":41},{"s":"SD","x":7.77,"y":27},{"s":"SD","x":7.81,"y":233},{"s":"SD","x":7.85,"y":45},{"s":"SD","x":7.89,"y":29},{"s":"SD","x":7.93,"y":35},{"s":"SD","x":7.97,"y":233},{"s":"SD","x":7.99,"y":77},{"s":"SD","x":8.01,"y":73},
{"s":"P","x":0.95,"y":10},{"s":"P","x":2,"y":18},{"s":"P","x":3,"y":28},{"s":"P","x":4,"y":40},{"s":"P","x":5,"y":53},{"s":"P","x":6,"y":64},{"s":"P","x":7,"y":74},{"s":"P","x":8,"y":84},
{"s":"PD","x":0.95,"y":16},{"s":"PD","x":2,"y":24},{"s":"PD","x":3,"y":31},{"s":"PD","x":4,"y":38},{"s":"PD","x":5,"y":47},{"s":"PD","x":6,"y":58},{"s":"PD","x":7,"y":69},{"s":"PD","x":8,"y":81}
]
},
"resolve":{"scale":{"color":"independent","shape":"independent"},"legend":{"color":"independent","shape":"independent"}},
"columns":2,
"spacing":{"row":18,"column":40},
"concat":[
{
 "width":292,"height":221,"data":{"name":"A"},"title":{"text":"A"},
 "encoding":{
  "x":{"field":"x","type":"quantitative","scale":{"domain":[0.7,10.77],"nice":false,"zero":false},"axis":{"values":[2,4,6,8,10],"title":"Growth speed vg (μm min⁻¹)"}},
  "y":{"field":"y","type":"quantitative","scale":{"domain":[0,405],"nice":false},"axis":{"values":[0,50,100,150,200,250,300,350,400],"title":"Mean capture time ⟨τc⟩ (min)"}},
  "color":{"field":"s","type":"nominal","scale":{"domain":["S","SD","P","PD"],"range":["#0072BD","#D95319","#0072BD","#D95319"]},
   "legend":{"orient":"none","legendX":129,"legendY":9,"title":null,"padding":0,"rowPadding":2,"symbolSize":25,"symbolStrokeWidth":1,"labelFontSize":12,"labelFont":"Liberation Sans","labelColor":"#000","labelOffset":10,
    "labelExpr":"datum.value=='S'?'Sim dynamics':datum.value=='SD'?'Sim dynamics + diffusion':datum.value=='P'?'PCE dynamics':'PCE dynamics + diffusion'",
    "encode":{"symbols":{"update":{"size":{"signal":"datum.value=='P'||datum.value=='PD'?380:22"},"strokeWidth":{"signal":"datum.value=='P'||datum.value=='PD'?1.6:1"},"fill":{"value":"transparent"}}}}}}
 },
 "layer":[
  {"transform":[{"filter":"datum.s=='S'||datum.s=='SD'"}],"mark":{"type":"point","filled":false,"size":22,"strokeWidth":1,"opacity":1},
   "encoding":{"shape":{"field":"s","type":"nominal","scale":{"domain":["S","SD","P","PD"],"range":["circle","circle","stroke","stroke"]},
   "legend":{"orient":"none","legendX":129,"legendY":9,"title":null,"padding":0,"rowPadding":2,"symbolSize":25,"symbolStrokeWidth":1,"labelFontSize":12,"labelFont":"Liberation Sans","labelColor":"#000","labelOffset":10,
    "labelExpr":"datum.value=='S'?'Sim dynamics':datum.value=='SD'?'Sim dynamics + diffusion':datum.value=='P'?'PCE dynamics':'PCE dynamics + diffusion'",
    "encode":{"symbols":{"update":{"size":{"signal":"datum.value=='P'||datum.value=='PD'?380:22"},"strokeWidth":{"signal":"datum.value=='P'||datum.value=='PD'?1.6:1"},"fill":{"value":"transparent"}}}}}}}},
  {"transform":[{"filter":"datum.s=='P'||datum.s=='PD'"}],"mark":{"type":"line","strokeWidth":1.5,"interpolate":"monotone"},"encoding":{}}
 ]
},
{
 "width":291,"height":220,"data":{"name":"B"},"title":{"text":"B"},
 "encoding":{
  "x":{"field":"x","type":"quantitative","scale":{"domain":[0.46,7.21],"nice":false,"zero":false},"axis":{"values":[1,2,3,4,5,6,7],"title":"Grow to pause frequency f₊₀ (min⁻¹)"}},
  "y":{"field":"y","type":"quantitative","scale":{"domain":[0,405],"nice":false},"axis":{"values":[0,50,100,150,200,250,300,350,400],"title":"Mean capture time ⟨τc⟩ (min)"}},
  "color":{"field":"s","type":"nominal","scale":{"domain":["S","SD","P","PD"],"range":["#0072BD","#D95319","#0072BD","#D95319"]},"legend":null}
 },
 "layer":[
  {"transform":[{"filter":"datum.s=='S'||datum.s=='SD'"}],"mark":{"type":"point","shape":"circle","filled":false,"size":22,"strokeWidth":1,"opacity":1},"encoding":{}},
  {"transform":[{"filter":"datum.s=='P'||datum.s=='PD'"}],"mark":{"type":"line","strokeWidth":1.5,"interpolate":"monotone"},"encoding":{}}
 ]
},
{
 "width":292,"height":221,"data":{"name":"C"},"title":{"text":"C"},
 "encoding":{
  "x":{"field":"x","type":"quantitative","scale":{"domain":[1.04,10.03],"nice":false,"zero":false},"axis":{"values":[2,3,4,5,6,7,8,9],"title":"Growth speed vg (μm min⁻¹)"}},
  "y":{"field":"y","type":"quantitative","scale":{"domain":[0,262],"nice":false},"axis":{"values":[0,50,100,150,200,250],"title":"Mean capture time ⟨τc⟩ (min)"}},
  "color":{"field":"s","type":"nominal","scale":{"domain":["S","SD","P","PD"],"range":["#0072BD","#D95319","#0072BD","#D95319"]},"legend":null}
 },
 "layer":[
  {"transform":[{"filter":"datum.s=='S'||datum.s=='SD'"}],"mark":{"type":"point","shape":"circle","filled":false,"size":22,"strokeWidth":1,"opacity":1},"encoding":{}},
  {"transform":[{"filter":"datum.s=='P'||datum.s=='PD'"}],"mark":{"type":"line","strokeWidth":1.5,"interpolate":"monotone"},"encoding":{}}
 ]
},
{
 "width":291,"height":221,"data":{"name":"D"},"title":{"text":"D"},
 "encoding":{
  "x":{"field":"x","type":"quantitative","scale":{"domain":[0.95,8.03],"nice":false,"zero":false},"axis":{"values":[1,2,3,4,5,6,7,8],"title":"Catastrophe frequency fc (min⁻¹)"}},
  "y":{"field":"y","type":"quantitative","scale":{"domain":[0,262],"nice":false},"axis":{"values":[0,50,100,150,200,250],"title":"Mean capture time ⟨τc⟩ (min)"}},
  "color":{"field":"s","type":"nominal","scale":{"domain":["S","SD","P","PD"],"range":["#0072BD","#D95319","#0072BD","#D95319"]},"legend":null}
 },
 "layer":[
  {"transform":[{"filter":"datum.s=='S'||datum.s=='SD'"}],"mark":{"type":"point","shape":"circle","filled":false,"size":22,"strokeWidth":1,"opacity":1},"encoding":{}},
  {"transform":[{"filter":"datum.s=='P'||datum.s=='PD'"}],"mark":{"type":"line","strokeWidth":1.5,"interpolate":"monotone"},"encoding":{}}
 ]
}
]
}
